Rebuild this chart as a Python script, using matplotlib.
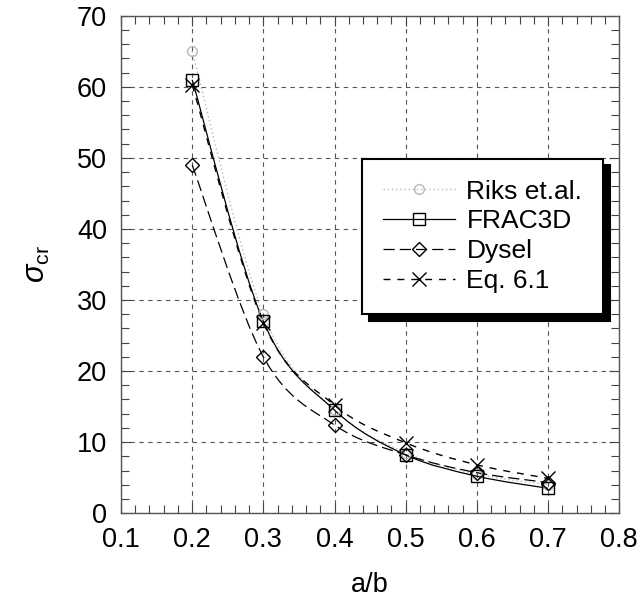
import numpy as np
import matplotlib
matplotlib.use("Agg")
import matplotlib.pyplot as plt
from matplotlib.path import Path
from matplotlib.patches import PathPatch
from matplotlib.lines import Line2D
from matplotlib.ticker import MultipleLocator

plt.rcParams['font.family'] = ['Liberation Sans', 'DejaVu Sans']
plt.rcParams['mathtext.fontset'] = 'custom'
plt.rcParams['mathtext.rm'] = 'Liberation Sans'
plt.rcParams['mathtext.it'] = 'Liberation Sans:italic'

# aspect ratio a/b
ratio = [0.2, 0.3, 0.4, 0.5, 0.6, 0.7]

# critical buckling stress from each source
riks = [65.0, 28.0, 14.5, 8.5, 5.5, 4.0]
frac3d = [61.0, 27.0, 14.5, 8.2, 5.2, 3.5]
dysel = [49.0, 22.0, 12.4, 8.2, 5.7, 4.3]
eq61 = [60.3, 26.8, 15.2, 9.9, 6.8, 4.9]

series_names = ["Riks et.al.", "FRAC3D", "Dysel", "Eq. 6.1"]
x_ticks = [0.1, 0.2, 0.3, 0.4, 0.5, 0.6, 0.7, 0.8]
y_ticks = [0, 10, 20, 30, 40, 50, 60, 70]


def smooth_path(xs, ys):
    """Catmull-Rom style cubic Bezier through the data points."""
    p = np.column_stack([xs, ys]).astype(float)
    n = len(p)
    verts = [p[0]]
    codes = [Path.MOVETO]
    for i in range(n - 1):
        p0 = p[i - 1] if i > 0 else p[i]
        p1 = p[i]
        p2 = p[i + 1]
        p3 = p[i + 2] if i + 2 < n else p[i + 1]
        c1 = p1 + (p2 - p0) / 6.0
        c2 = p2 - (p3 - p1) / 6.0
        verts += [c1, c2, p2]
        codes += [Path.CURVE4] * 3
    return Path(verts, codes)


fig = plt.figure(figsize=(6.42, 6.08), dpi=100)
ax = fig.add_axes([0.1885, 0.156, 0.776, 0.818])

styles = [
    dict(data=riks, color='#b8b8b8', ls=(0, (1, 2)), lw=1.0, marker='o', ms=7),
    dict(data=frac3d, color='black', ls='-', lw=0.9, marker='s', ms=9),
    dict(data=dysel, color='black', ls=(0, (9, 4)), lw=0.9, marker='D', ms=7.5),
    dict(data=eq61, color='black', ls=(0, (5, 5)), lw=1.0, marker='x', ms=10),
]

handles = []
for st, name in zip(styles, series_names):
    patch = PathPatch(smooth_path(ratio, st['data']), facecolor='none',
                      edgecolor=st['color'], linestyle=st['ls'], lw=st['lw'],
                      zorder=3)
    ax.add_patch(patch)
    ax.plot(ratio, st['data'], linestyle='none', marker=st['marker'],
            ms=st['ms'], mfc='none', mec=st['color'], mew=1.0, zorder=4)
    handles.append(Line2D([], [], color=st['color'], linestyle=st['ls'],
                          lw=st['lw'], marker=st['marker'], ms=st['ms'],
                          mfc='none', mec=st['color'], mew=1.0))

ax.set_xlim(0.1, 0.8)
ax.set_ylim(0, 70)
ax.set_xticks(x_ticks)
ax.set_yticks(y_ticks)
ax.set_xticklabels([f"{v:.1f}" for v in x_ticks])
ax.set_yticklabels([str(v) for v in y_ticks])
ax.xaxis.set_minor_locator(MultipleLocator(0.02))
ax.yaxis.set_minor_locator(MultipleLocator(2))
ax.tick_params(which='both', direction='in', top=True, right=True,
               color='#444444', labelsize=19.5, pad=10)
ax.tick_params(which='major', length=7, width=0.8)
ax.tick_params(which='minor', length=6, width=0.8)
ax.grid(True, which='major', color='#555555', linestyle=(0, (4, 4)), lw=0.8)
for sp in ax.spines.values():
    sp.set_color('#555555')
    sp.set_linewidth(1.0)

ax.set_xlabel("a/b", fontsize=19.5, labelpad=14)
ax.set_ylabel(r"$\mathit{\sigma}_{\mathrm{cr}}$", fontsize=22, labelpad=18)

leg = ax.legend(handles, series_names, loc='upper left',
                bbox_to_anchor=(0.484, 0.713), fontsize=19, frameon=True,
                fancybox=False, edgecolor='black', framealpha=1,
                handlelength=2.7, labelspacing=0.22, borderpad=0.8,
                handletextpad=0.45, borderaxespad=0.0,
                shadow={'ox': 5, 'oy': -5, 'shade': 1.0, 'alpha': 1.0})
leg.get_frame().set_linewidth(1.5)
leg.set_zorder(10)

fig.savefig("out.png", dpi=100)
